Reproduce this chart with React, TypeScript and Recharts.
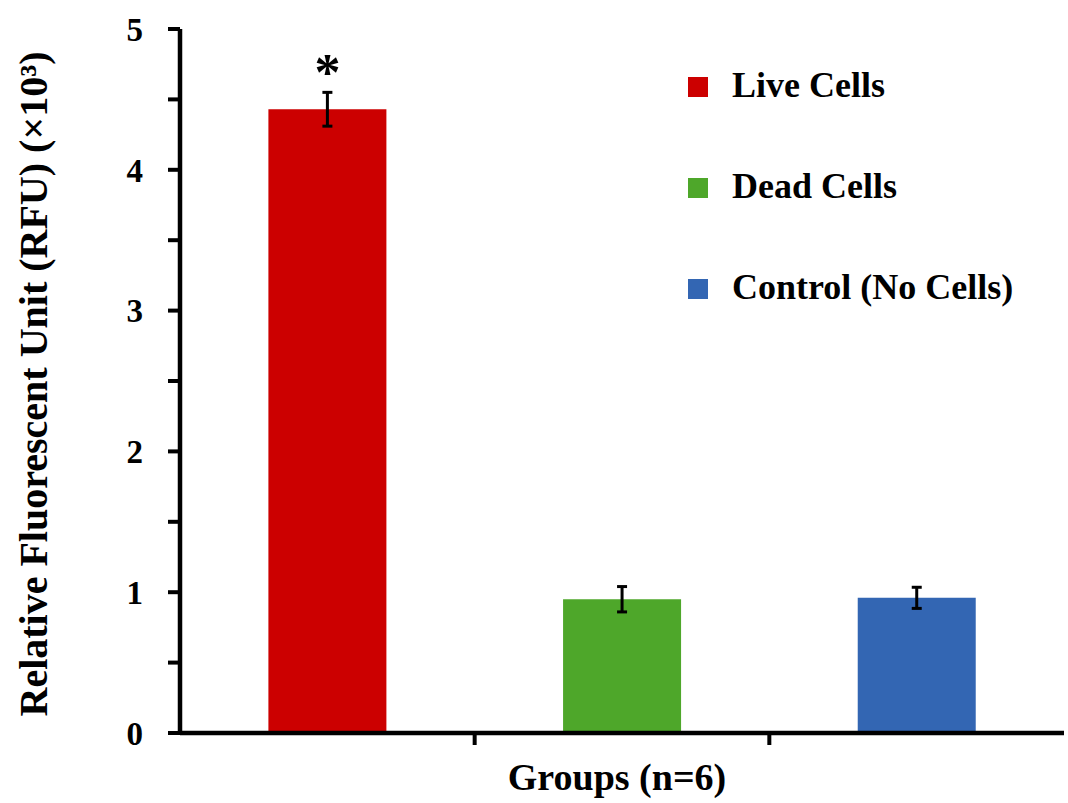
import React from 'react';
import { BarChart, Bar, XAxis, YAxis, Cell, ErrorBar, LabelList, Legend, Label } from 'recharts';

const groups = ['Live Cells', 'Dead Cells', 'Control (No Cells)'];
const meanRFU = [4.43, 0.95, 0.96];
const errRFU = [0.12, 0.09, 0.075];
const significance = ['*', '', ''];
const colors = ['#CC0000', '#4EA72A', '#3366B3'];
const yTicks = [0, 0.5, 1, 1.5, 2, 2.5, 3, 3.5, 4, 4.5, 5];
const yLabel = 'Relative Fluorescent Unit (RFU) (×10³)';
const xLabel = 'Groups (n=6)';

const data = groups.map((g, i) => ({ group: g, mean: meanRFU[i], err: errRFU[i], sig: significance[i] }));

const FONT = '"Liberation Serif", "Times New Roman", serif';

const BoundaryTick = (props: any) => {
  const { x, y, payload, index } = props;
  if (index >= groups.length - 1) return null;
  const half = payload && typeof payload.offset === 'number' ? payload.offset : 0;
  const bx = x + half;
  return <line x1={bx} x2={bx} y1={y} y2={y + 12} stroke="#000" strokeWidth={4} />;
};

const SigLabel = (props: any) => {
  const { x, y, width, value } = props;
  if (!value) return null;
  return (
    <text x={x + width / 2} y={y - 19} textAnchor="middle" fontFamily={FONT} fontWeight="bold" fontSize={52} fill="#000">
      {value}
    </text>
  );
};

const LegendContent = () => (
  <svg width={380} height={260} style={{ display: 'block' }}>
    {groups.map((g, i) => (
      <g key={g}>
        <rect x={0} y={17 + i * 101} width={20} height={20} fill={colors[i]} />
        <text x={44} y={37 + i * 101} fontFamily={FONT} fontWeight="bold" fontSize={36} fill="#000">
          {g}
        </text>
      </g>
    ))}
  </svg>
);

export default function App() {
  return (
    <div style={{ position: 'absolute', left: 0, top: 0, background: '#fff' }}>
      <BarChart
        width={1068}
        height={803}
        data={data}
        margin={{ top: 29, right: 4, left: 0, bottom: 0 }}
        barCategoryGap="30%"
      >
        <XAxis
          dataKey="group"
          height={70}
          axisLine={{ stroke: '#000', strokeWidth: 4.5 }}
          tickLine={false}
          tickSize={0}
          tickMargin={0}
          tick={<BoundaryTick />}
          interval={0}
        >
          <Label
            value={xLabel}
            position="insideBottom"
            offset={13}
            dx={-5}
            style={{ fontFamily: FONT, fontWeight: 'bold', fontSize: 38, fill: '#000' }}
          />
        </XAxis>
        <YAxis
          width={180}
          domain={[0, 5]}
          ticks={yTicks}
          interval={0}
          axisLine={{ stroke: '#000', strokeWidth: 4.5 }}
          tickLine={{ stroke: '#000', strokeWidth: 4 }}
          tickSize={12}
          tickMargin={25}
          tickFormatter={(v: number) => (Number.isInteger(v) ? String(v) : '')}
          tick={{ fontFamily: FONT, fontWeight: 'bold', fontSize: 33, fill: '#000' }}
        >
          <Label
            content={(p: any) => {
              const vb = p.viewBox || { x: 0, y: 29, width: 180, height: 704 };
              const cx = vb.x + 47;
              const cy = vb.y + vb.height / 2 + 3;
              return (
                <text
                  x={cx}
                  y={cy}
                  transform={`rotate(-90 ${cx} ${cy})`}
                  textAnchor="middle"
                  fontFamily={FONT}
                  fontWeight="bold"
                  fontSize={40}
                  fill="#000"
                >
                  {yLabel}
                </text>
              );
            }}
          />
        </YAxis>
        <Legend
          layout="vertical"
          align="center"
          verticalAlign="middle"
          content={<LegendContent />}
          wrapperStyle={{ position: 'absolute', left: 688, top: 60, width: 380, height: 260 }}
        />
        <Bar dataKey="mean" isAnimationActive={false}>
          {data.map((d, i) => (
            <Cell key={d.group} fill={colors[i]} />
          ))}
          <ErrorBar dataKey="err" width={5} strokeWidth={3} stroke="#000" direction="y" />
          <LabelList dataKey="sig" content={<SigLabel />} />
        </Bar>
      </BarChart>
    </div>
  );
}
